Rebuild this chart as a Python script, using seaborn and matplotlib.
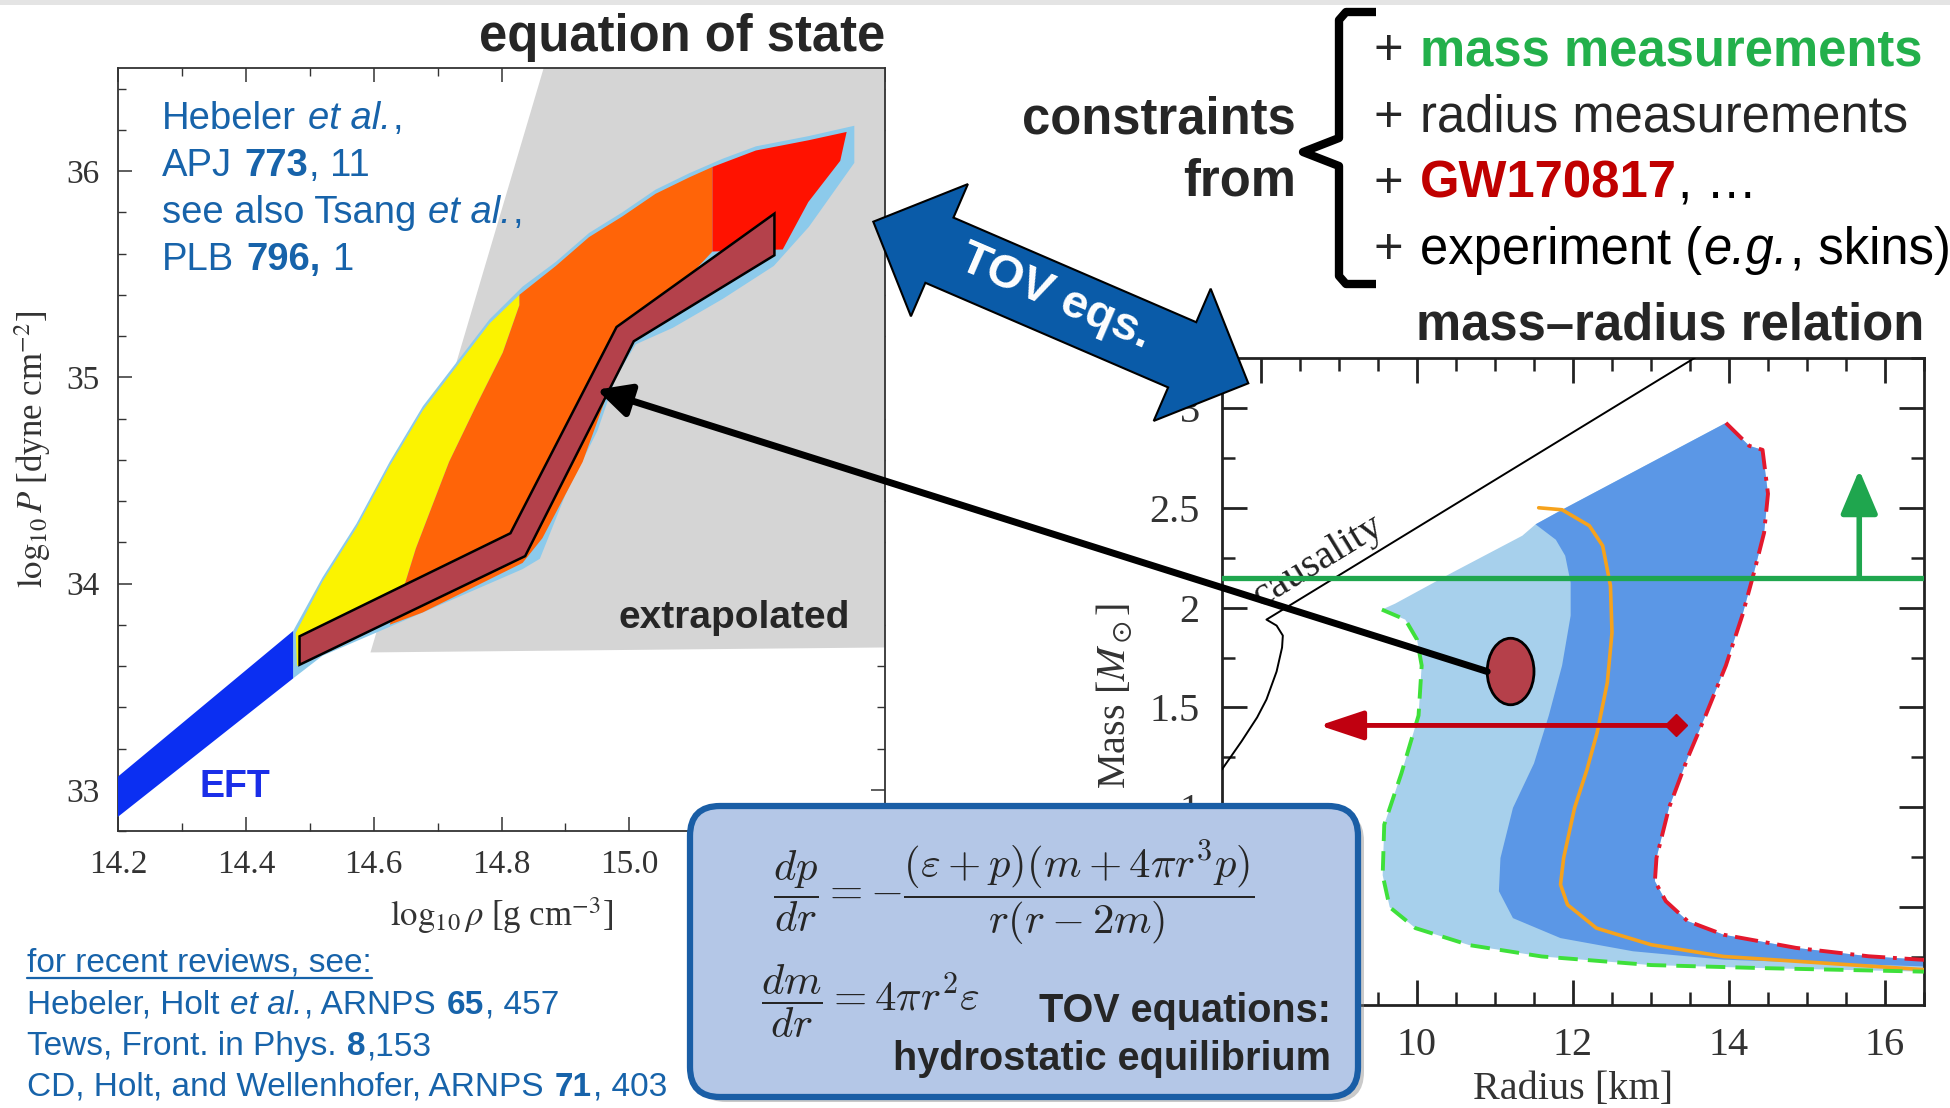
import numpy as np
import pandas as pd
import matplotlib
matplotlib.use("Agg")
import matplotlib.pyplot as plt
from matplotlib.patches import Polygon, Ellipse, FancyBboxPatch, ConnectionPatch, Rectangle, PathPatch
from matplotlib.path import Path
from matplotlib.lines import Line2D
from matplotlib.transforms import Affine2D, IdentityTransform
from matplotlib.ticker import MultipleLocator, FuncFormatter
import seaborn as sns

W, H, DPI = 1950, 1108, 100

# ---------------- EOS panel data (log10 rho, log10 P) ----------------
eos_xlim = (14.2, 15.4)
eos_ylim = (32.8, 36.5)

eft_rho = [14.2, 14.474, 14.474, 14.2]
eft_p = [33.064, 33.77, 33.54, 32.869]

extrap_rho = [14.595, 14.866, 15.4, 15.4]
extrap_p = [33.666, 36.5, 36.5, 33.69]

env_rho = [14.474, 14.520, 14.573, 14.625, 14.677, 14.729, 14.781, 14.833, 14.885, 14.937, 14.989,
           15.041, 15.094, 15.146, 15.198, 15.281, 15.352,
           15.352, 15.281, 15.226, 15.146, 15.068, 15.010, 14.979, 14.95, 14.90, 14.86, 14.833,
           14.729, 14.625, 14.520, 14.474]
env_p = [33.77, 34.03, 34.29, 34.59, 34.86, 35.07, 35.28, 35.44, 35.56, 35.70, 35.80,
         35.91, 35.99, 36.06, 36.12, 36.17, 36.22,
         36.04, 35.73, 35.54, 35.38, 35.24, 35.16, 35.0, 34.74, 34.43, 34.12, 34.07,
         33.93, 33.79, 33.65, 33.54]

yellow_rho = [14.478, 14.52, 14.573, 14.625, 14.677, 14.729, 14.781, 14.828, 14.828, 14.802, 14.760,
              14.718, 14.687, 14.666, 14.645, 14.625, 14.55, 14.48]
yellow_p = [33.76, 34.01, 34.27, 34.57, 34.84, 35.05, 35.26, 35.40, 35.35, 35.12, 34.86,
            34.59, 34.34, 34.17, 33.96, 33.82, 33.70, 33.60]

orange_rho = [14.828, 14.885, 14.937, 14.989, 15.041, 15.094, 15.130, 15.130, 15.008, 14.968, 14.927,
              14.864, 14.833, 14.677, 14.625, 14.645, 14.666, 14.687, 14.718, 14.760, 14.802, 14.828]
orange_p = [35.40, 35.54, 35.68, 35.78, 35.89, 35.97, 36.02, 35.61, 35.21, 34.94, 34.59,
            34.22, 34.10, 33.86, 33.80, 33.96, 34.17, 34.34, 34.59, 34.86, 35.12, 35.35]

red_rho = [15.130, 15.198, 15.281, 15.34, 15.33, 15.28, 15.24, 15.130]
red_p = [36.02, 36.10, 36.15, 36.19, 36.05, 35.85, 35.62, 35.61]

box_rho = [14.484, 14.814, 14.980, 15.227, 15.227, 15.007, 14.837, 14.484]
box_p = [33.744, 34.244, 35.244, 35.794, 35.592, 35.175, 34.133, 33.606]

# ---------------- mass-radius panel data (R [km], M [Msun]) ----------------
mr_xlim = (7.5, 16.5)
mr_ylim = (0.01, 3.25)

causal_R = [7.5, 7.75, 7.95, 8.07, 8.20, 8.27, 8.28, 8.20, 8.07, 13.6]
causal_M = [1.19, 1.33, 1.45, 1.54, 1.68, 1.80, 1.86, 1.91, 1.94, 3.26]

green_R = [9.55, 9.85, 10.0, 10.06, 10.02, 9.80, 9.58, 9.56, 9.65, 9.98, 10.67, 11.60, 13.0, 14.40, 16.5]
green_M = [1.99, 1.94, 1.84, 1.71, 1.46, 1.17, 0.913, 0.66, 0.50, 0.395, 0.31, 0.253, 0.21, 0.195, 0.177]

top_R = [9.55, 9.72, 10.45, 11.35, 11.52, 11.86, 13.96]
top_M = [1.99, 2.02, 2.175, 2.36, 2.417, 2.49, 2.925]

red_R = [13.96, 14.26, 14.43, 14.50, 14.45, 14.32, 14.17, 13.96, 13.70, 13.47, 13.23, 13.07, 13.05,
         13.19, 13.47, 13.93, 14.86, 15.79, 16.5]
red_M = [2.925, 2.81, 2.79, 2.57, 2.375, 2.175, 1.96, 1.71, 1.46, 1.247, 0.997, 0.746, 0.63,
         0.53, 0.43, 0.362, 0.296, 0.254, 0.236]

split_R = [11.52, 11.78, 11.90, 11.97, 11.97, 11.86, 11.69, 11.50, 11.23, 11.07, 11.05, 11.23,
           11.84, 12.77, 13.93, 16.5]
split_M = [2.417, 2.34, 2.26, 2.125, 1.96, 1.71, 1.46, 1.22, 0.997, 0.746, 0.58, 0.445,
           0.345, 0.279, 0.237, 0.203]

orange_R = [11.56, 11.86, 12.21, 12.38, 12.48, 12.50, 12.44, 12.31, 12.18, 12.02, 11.88, 11.84,
            11.93, 12.30, 13.0, 13.93, 16.5]
orange_M = [2.50, 2.49, 2.41, 2.31, 2.11, 1.875, 1.625, 1.375, 1.19, 0.997, 0.746, 0.613,
            0.512, 0.395, 0.312, 0.253, 0.187]

mass_limit = 2.147
mass_arrow_R = 15.67
mass_arrow_top = 2.69
gw_M = 1.41
gw_R = [8.75, 13.32]
ellipse_RM = (11.2, 1.68)
eos_target = (14.949, 34.94)

# ---------------- style ----------------
sns.set_theme(style="ticks")
plt.rcParams.update({
    'font.family': ['Liberation Sans', 'DejaVu Sans'],
    'mathtext.fontset': 'custom',
    'mathtext.rm': 'Liberation Sans',
    'mathtext.it': 'Liberation Sans:italic',
    'mathtext.bf': 'Liberation Sans:bold',
    'xtick.direction': 'in', 'ytick.direction': 'in',
    'xtick.top': True, 'ytick.right': True,
    'axes.facecolor': 'white', 'figure.facecolor': 'white',
})

fig = plt.figure(figsize=(W / DPI, H / DPI), dpi=DPI)
PX = Affine2D().scale(1.0 / W, -1.0 / H).translate(0, 1) + fig.transFigure
PXU = Affine2D().scale(1.0 / W, 1.0 / H) + fig.transFigure
REN = fig.canvas.get_renderer()


def ftext(x, y, s, **kw):
    return fig.text(x / W, 1 - y / H, s, **kw)


def rich(x, y, segs, size, color='black', zorder=6):
    """draw consecutive text pieces of different style on one baseline (pixel coords)"""
    space = 0.278 * size * DPI / 72.0
    cur = x
    last = None
    for s, kw in segs:
        kw = dict(kw)
        if kw.pop('gap', False):
            cur += space
        col = kw.pop('color', color)
        t = fig.text(cur / W, 1 - y / H, s, ha='left', va='baseline', fontsize=size,
                     color=col, zorder=zorder, **kw)
        bb = t.get_window_extent(REN)
        cur = bb.x1 + 1.5
        last = t
    return last


# top gray strip
fig.patches.append(Rectangle((0, 0), W, 5, transform=PX, color='#e4e4e4', lw=0, zorder=0))

# ---------------- EOS axes ----------------
ax1 = fig.add_axes([118 / W, 1 - 831 / H, 767 / W, 763 / H])
ax1.set_xlim(*eos_xlim)
ax1.set_ylim(*eos_ylim)
ax1.fill(extrap_rho, extrap_p, color='#d5d5d5', lw=0, zorder=1)
ax1.fill(env_rho, env_p, color='#8ccaeb', lw=0, zorder=2)
ax1.fill(yellow_rho, yellow_p, color='#fbf300', lw=0, zorder=3)
ax1.fill(orange_rho, orange_p, color='#ff6408', lw=0, zorder=3)
ax1.fill(red_rho, red_p, color='#ff1200', lw=0, zorder=3)
ax1.fill(eft_rho, eft_p, color='#0b2ff2', lw=0, zorder=3)
ax1.fill(box_rho, box_p, facecolor='#b4414b', edgecolor='black', lw=1.8, zorder=4)

ax1.xaxis.set_major_locator(MultipleLocator(0.2))
ax1.xaxis.set_minor_locator(MultipleLocator(0.1))
ax1.yaxis.set_major_locator(MultipleLocator(1))
ax1.yaxis.set_minor_locator(MultipleLocator(0.2))
ax1.xaxis.set_major_formatter(FuncFormatter(lambda v, p: f"{v:.1f}"))
ax1.tick_params(which='major', length=10, width=1.1, color='#333333', labelsize=24,
                labelcolor='#333333', labelfontfamily='Liberation Serif', pad=13)
ax1.tick_params(which='minor', length=5.5, width=1.0, color='#333333')
for sp in ax1.spines.values():
    sp.set_color('#333333')
    sp.set_linewidth(1.3)
ax1.set_xlabel(r"$\log_{10}\rho$ [g cm$^{-3}$]", fontsize=25, color='#333333',
               fontfamily='Liberation Serif', math_fontfamily='stix', labelpad=11)
ax1.set_ylabel(r"$\log_{10}P$ [dyne cm$^{-2}$]", fontsize=25, color='#333333',
               fontfamily='Liberation Serif', math_fontfamily='stix', labelpad=10)

# ---------------- mass-radius axes ----------------
ax2 = fig.add_axes([1222 / W, 1 - 1005 / H, 702 / W, 647 / H])
ax2.set_xlim(*mr_xlim)
ax2.set_ylim(*mr_ylim)
env_R = top_R + red_R[1:] + green_R[::-1]
env_M = top_M + red_M[1:] + green_M[::-1]
ax2.fill(env_R, env_M, color='#a7d0ec', lw=0, zorder=1)
dark_R = top_R[4:] + red_R[1:] + split_R[::-1]
dark_M = top_M[4:] + red_M[1:] + split_M[::-1]
ax2.fill(dark_R, dark_M, color='#5b97e6', lw=0, zorder=2)

df_orange = pd.DataFrame({'R': orange_R, 'M': orange_M})
df_green = pd.DataFrame({'R': green_R, 'M': green_M})
df_red = pd.DataFrame({'R': red_R, 'M': red_M})
df_causal = pd.DataFrame({'R': causal_R, 'M': causal_M})
sns.lineplot(data=df_orange, x='R', y='M', sort=False, estimator=None, ax=ax2,
             color='#f6a21c', lw=2.6, zorder=4)
sns.lineplot(data=df_green, x='R', y='M', sort=False, estimator=None, ax=ax2,
             color='#3ee03a', lw=2.8, linestyle=(0, (5, 2.6)), zorder=4)
sns.lineplot(data=df_red, x='R', y='M', sort=False, estimator=None, ax=ax2,
             color='#e3182d', lw=2.8, linestyle=(0, (6, 2, 1, 2)), zorder=4)
sns.lineplot(data=df_causal, x='R', y='M', sort=False, estimator=None, ax=ax2,
             color='black', lw=1.4, zorder=3)
ax2.text(8.0, 2.0, 'causality', rotation=31.4, rotation_mode='anchor', ha='left', va='baseline',
         fontsize=29.5, fontfamily='Liberation Serif', color='#222222', zorder=3)

ax2.axhline(mass_limit, color='#1fa64e', lw=3.8, zorder=5)
ax2.annotate('', xy=(mass_arrow_R, mass_arrow_top), xytext=(mass_arrow_R, mass_limit),
             arrowprops=dict(arrowstyle='-|>,head_length=0.9,head_width=0.38', color='#1fa64e',
                             lw=4.0, mutation_scale=30, shrinkA=0, shrinkB=0), zorder=5)
ax2.annotate('', xy=(gw_R[0], gw_M), xytext=(gw_R[1], gw_M),
             arrowprops=dict(arrowstyle='-|>,head_length=0.9,head_width=0.3', color='#c00010',
                             lw=3.5, mutation_scale=30, shrinkA=0, shrinkB=0), zorder=5)
ax2.plot([gw_R[1]], [gw_M], marker='D', ms=11, color='#c00010', zorder=5)
ax2.add_patch(Ellipse(ellipse_RM, 0.6, 0.333, facecolor='#b5404a', edgecolor='black', lw=2, zorder=7))

ax2.xaxis.set_major_locator(MultipleLocator(2))
ax2.xaxis.set_minor_locator(MultipleLocator(0.5))
ax2.yaxis.set_major_locator(MultipleLocator(0.5))
ax2.yaxis.set_minor_locator(MultipleLocator(0.25))
ax2.yaxis.set_major_formatter(FuncFormatter(lambda v, p: f"{v:g}"))
ax2.tick_params(which='major', length=18, width=2.0, color='#222222', labelsize=29,
                labelcolor='#333333', labelfontfamily='Liberation Serif', pad=16)
ax2.tick_params(which='minor', length=9.5, width=1.8, color='#222222')
for sp in ax2.spines.values():
    sp.set_color('#222222')
    sp.set_linewidth(2.0)
ax2.set_xlabel('Radius [km]', fontsize=29, color='#333333', fontfamily='Liberation Serif', labelpad=5)
ax2.set_ylabel(r"Mass [$M_\odot$]", fontsize=29, color='#333333', fontfamily='Liberation Serif',
               math_fontfamily='stix')
ax2.yaxis.set_label_coords(-0.124, 0.477)

# ---------------- connecting black arrow ----------------
con = ConnectionPatch(xyA=(ellipse_RM[0] - 0.3, ellipse_RM[1]), coordsA=ax2.transData,
                      xyB=eos_target, coordsB=ax1.transData,
                      arrowstyle='-|>,head_length=0.5,head_width=0.25', mutation_scale=40,
                      color='black', lw=5, shrinkA=0, shrinkB=0, zorder=8)
fig.add_artist(con)

# ---------------- TOV double arrow ----------------
L = np.array([873.3, 221.7])
R = np.array([1248.3, 383.3])
u = (R - L) / np.linalg.norm(R - L)
n = np.array([-u[1], u[0]])
hl, hw, sw = 72, 72, 35.5
verts = [L, L + hl * u + hw * n, L + hl * u + sw * n, R - hl * u + sw * n, R - hl * u + hw * n, R,
         R - hl * u - hw * n, R - hl * u - sw * n, L + hl * u - sw * n, L + hl * u - hw * n]
fig.patches.append(Polygon(verts, closed=True, transform=PX, facecolor='#0a5ba8',
                           edgecolor='black', lw=1.5, zorder=10))
ftext(1055, 297, 'TOV eqs.', rotation=-23.3, rotation_mode='anchor', ha='center', va='center',
      fontsize=34, fontweight='bold', color='white', zorder=11)

# ---------------- headings & constraints ----------------
HS = 36.5
ftext(885, 51, 'equation of state', ha='right', va='baseline', fontsize=HS, fontweight='bold')
ftext(1924, 340, 'mass\u2013radius relation', ha='right', va='baseline', fontsize=HS, fontweight='bold')
ftext(1296, 134, 'constraints', ha='right', va='baseline', fontsize=HS, fontweight='bold')
ftext(1296, 195, 'from', ha='right', va='baseline', fontsize=HS, fontweight='bold')

brace = Path([(1376, 12), (1346, 12), (1339, 20), (1339, 138), (1303, 152),
              (1339, 166), (1339, 276), (1346, 284), (1376, 284)],
             [Path.MOVETO] + [Path.LINETO] * 8)
fig.patches.append(PathPatch(brace, transform=PX, fill=False, lw=6, edgecolor='black',
                             joinstyle='round', capstyle='butt', zorder=10))

items_y = [65, 132, 198, 264]
for yb in items_y:
    ftext(1374, yb, '+', ha='left', va='baseline', fontsize=HS)
ftext(1420, items_y[0], 'mass measurements', ha='left', va='baseline', fontsize=HS,
      fontweight='bold', color='#23b04b')
ftext(1420, items_y[1], 'radius measurements', ha='left', va='baseline', fontsize=HS)
rich(1420, items_y[2], [('GW170817', {'fontweight': 'bold', 'color': '#c00000'}),
                        (', \u2026', {})], HS)
rich(1420, items_y[3], [('experiment (', {}), ('e.g.', {'fontstyle': 'italic'}),
                        (', skins)', {})], HS)

# ---------------- EOS annotations ----------------
blue_txt = '#1763aa'
ref_segs = [
    [('Hebeler', {}), ('et al.', {'fontstyle': 'italic', 'gap': True}), (',', {})],
    [('APJ', {}), ('773', {'fontweight': 'bold', 'gap': True}), (', 11', {})],
    [('see also Tsang', {}), ('et al.', {'fontstyle': 'italic', 'gap': True}), (',', {})],
    [('PLB', {}), ('796,', {'fontweight': 'bold', 'gap': True}), ('1', {'gap': True})],
]
for i, segs in enumerate(ref_segs):
    rich(162, 129 + 47 * i, segs, 27.5, color=blue_txt)
ftext(199, 797, 'EFT', ha='left', va='baseline', fontsize=27, fontweight='bold', color='#1a2ee8', zorder=6)
ftext(619, 628, 'extrapolated', ha='left', va='baseline', fontsize=28, fontweight='bold', zorder=6)

# ---------------- reviews ----------------
RS = 24
rev = ftext(27, 972, 'for recent reviews, see:', ha='left', va='baseline', fontsize=RS, color=blue_txt)
rev_segs = [
    [('Hebeler, Holt', {}), ('et al.', {'fontstyle': 'italic', 'gap': True}), (', ARNPS', {}),
     ('65', {'fontweight': 'bold', 'gap': True}), (', 457', {})],
    [('Tews, Front. in Phys.', {}), ('8', {'fontweight': 'bold', 'gap': True}), (',153', {})],
    [('CD, Holt, and Wellenhofer, ARNPS', {}), ('71', {'fontweight': 'bold', 'gap': True}),
     (', 403', {})],
]
for i, segs in enumerate(rev_segs):
    rich(27, 1014 + 41 * i, segs, RS, color=blue_txt)
bb = rev.get_window_extent(REN)
fig.add_artist(Line2D([bb.x0, bb.x1], [bb.y0 + 1, bb.y0 + 1], transform=IdentityTransform(),
                      color=blue_txt, lw=1.6))

# ---------------- TOV equation box ----------------
fig.patches.append(FancyBboxPatch((696, H - 1102), 668, 291, boxstyle='round,pad=0,rounding_size=30',
                                  transform=PXU, facecolor='#8a8a8a', alpha=0.45, lw=0, zorder=12))
fig.patches.append(FancyBboxPatch((690, H - 1097), 668, 291, boxstyle='round,pad=0,rounding_size=30',
                                  transform=PXU, facecolor='#b4c7e7', edgecolor='#1a5ea6', lw=4.5, zorder=13))
ftext(773, 893, r'$\dfrac{dp}{dr} = -\dfrac{(\varepsilon+p)(m+4\pi r^3 p)}{r(r-2m)}$',
      ha='left', va='center', fontsize=30.8, math_fontfamily='cm', zorder=14)
ftext(761, 1001, r'$\dfrac{dm}{dr} = 4\pi r^2\varepsilon$',
      ha='left', va='center', fontsize=30.8, math_fontfamily='cm', zorder=14)
ftext(1331, 1022, 'TOV equations:', ha='right', va='baseline', fontsize=28.5, fontweight='bold', zorder=14)
ftext(1331, 1070, 'hydrostatic equilibrium', ha='right', va='baseline', fontsize=28.5,
      fontweight='bold', zorder=14)

fig.savefig('out.png', dpi=DPI)
